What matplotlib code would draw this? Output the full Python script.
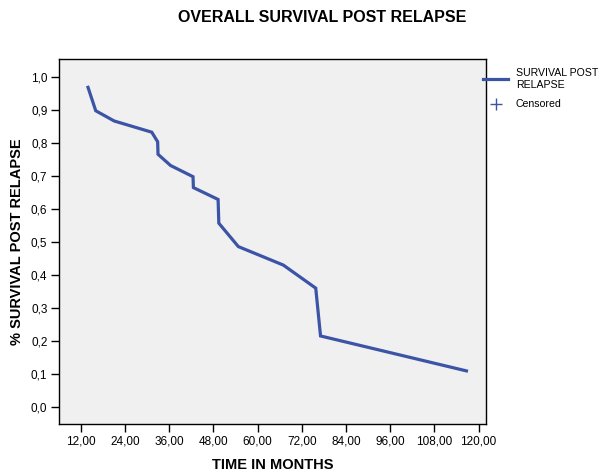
import matplotlib
matplotlib.use("Agg")
import matplotlib.pyplot as plt
from matplotlib.ticker import FuncFormatter

plt.rcParams['font.family'] = ['Liberation Sans', 'DejaVu Sans']

# survival curve vertices
months = [14.0, 16.1, 21.1, 31.3, 32.9, 33.0, 36.4, 42.5, 42.6, 49.3, 49.5,
          54.8, 67.0, 75.8, 77.1, 116.7]
survival = [0.969, 0.898, 0.867, 0.833, 0.804, 0.766, 0.732, 0.698, 0.665,
            0.629, 0.557, 0.486, 0.430, 0.360, 0.215, 0.109]
censored_months = []
censored_survival = []

x_ticks = [12, 24, 36, 48, 60, 72, 84, 96, 108, 120]
y_ticks = [0.0, 0.1, 0.2, 0.3, 0.4, 0.5, 0.6, 0.7, 0.8, 0.9, 1.0]

blue = '#3b54a6'

fig = plt.figure(figsize=(6.04, 4.75), dpi=100)
ax = fig.add_axes([0.0969, 0.1074, 0.7077, 0.7684])
ax.set_facecolor('#f0f0f0')

ax.plot(months, survival, color=blue, lw=2.3, solid_joinstyle='miter',
        label='SURVIVAL POST\nRELAPSE')
ax.plot(censored_months, censored_survival, ls='none', marker='+', ms=9,
        mew=1.0, color=blue, label='Censored')

ax.set_xlim(6, 122)
ax.set_ylim(-0.052, 1.055)
ax.set_xticks(x_ticks)
ax.set_yticks(y_ticks)
ax.xaxis.set_major_formatter(FuncFormatter(lambda v, p: f"{v:.2f}".replace('.', ',')))
ax.yaxis.set_major_formatter(FuncFormatter(lambda v, p: f"{v:.1f}".replace('.', ',')))
ax.tick_params(direction='out', length=6, width=1, labelsize=8.5, colors='black', pad=2)

for s in ax.spines.values():
    s.set_linewidth(1.0)

ax.set_xlabel('TIME IN MONTHS', fontsize=10.5, fontweight='bold', labelpad=8)
ax.set_ylabel('% SURVIVAL POST RELAPSE', fontsize=10.5, fontweight='bold', labelpad=5)
fig.text(0.533, 0.963, 'OVERALL SURVIVAL POST RELAPSE', ha='center', va='center',
         fontsize=11.5, fontweight='bold')

leg = ax.legend(loc='upper left', bbox_to_anchor=(0.993, 0.975), frameon=False,
                fontsize=7.6, handlelength=2.4, handletextpad=0.7, labelspacing=0.9,
                borderaxespad=0, borderpad=0)

fig.savefig('out.png', dpi=100)
